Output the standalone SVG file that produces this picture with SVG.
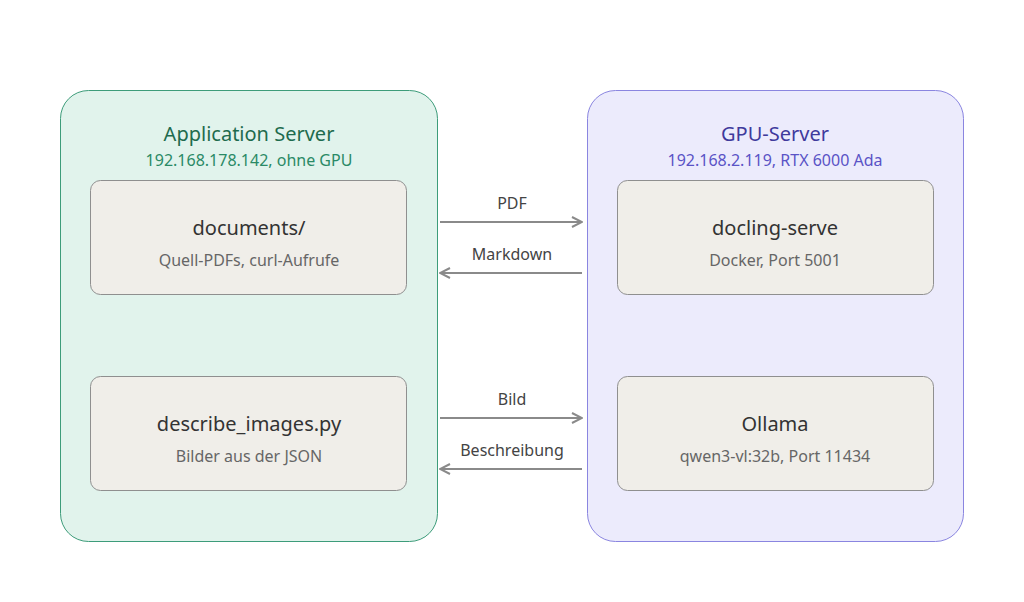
<svg xmlns="http://www.w3.org/2000/svg" width="1024" height="602" viewBox="0 0 1024 602">
<style>
text{font-family:"Noto Sans","Open Sans",sans-serif;text-anchor:middle}
.t{font-size:20px}.s{font-size:16px}
.n{fill:#f0eee9;stroke:#8f8f8f;stroke-width:1}
.nt{font-size:20px;fill:#333}.ns{font-size:16px;fill:#666}
.l{font-size:16px;fill:#444}
.c{stroke:#8a8a8a;stroke-width:2;fill:none;marker-end:url(#a)}
</style>
<defs><marker id="a" viewBox="0 0 12 12" refX="11" refY="6" markerWidth="12" markerHeight="12" markerUnits="userSpaceOnUse" orient="auto"><path d="M1 1L11 6L1 11" fill="none" stroke="#8a8a8a" stroke-width="2"/></marker></defs>
<rect width="1024" height="602" fill="#fff"/>
<g id="app">
<rect x="60.5" y="90.5" width="377" height="451" rx="28" fill="#e1f3ec" stroke="#3d9c7a"/>
<text x="249" y="141" class="t" fill="#1e6b4e">Application Server</text>
<text x="249" y="166" class="s" fill="#2a8a66">192.168.178.142, ohne GPU</text>
</g>
<g id="gpu">
<rect x="587.5" y="90.5" width="376" height="451" rx="28" fill="#ecebfc" stroke="#8a85e0"/>
<text x="775" y="141" class="t" fill="#3f3a9c">GPU-Server</text>
<text x="775" y="166" class="s" fill="#5a53c6">192.168.2.119, RTX 6000 Ada</text>
</g>
<g id="documents"><rect class="n" x="90.5" y="180.5" width="316" height="114" rx="10"/>
<text x="249" y="235" class="nt">documents/</text><text x="249" y="266" class="ns">Quell-PDFs, curl-Aufrufe</text></g>
<g id="describe"><rect class="n" x="90.5" y="376.5" width="316" height="114" rx="10"/>
<text x="249" y="431" class="nt">describe_images.py</text><text x="249" y="462" class="ns">Bilder aus der JSON</text></g>
<g id="docling"><rect class="n" x="617.5" y="180.5" width="316" height="114" rx="10"/>
<text x="775" y="235" class="nt">docling-serve</text><text x="775" y="266" class="ns">Docker, Port 5001</text></g>
<g id="ollama"><rect class="n" x="617.5" y="376.5" width="316" height="114" rx="10"/>
<text x="775" y="431" class="nt">Ollama</text><text x="775" y="462" class="ns">qwen3-vl:32b, Port 11434</text></g>
<g id="connectors">
<path class="c" d="M440 222H582"/><path class="c" d="M582 273H440"/>
<path class="c" d="M440 418H582"/><path class="c" d="M582 469H440"/>
<text x="512" y="209" class="l">PDF</text><text x="512" y="260" class="l">Markdown</text>
<text x="512" y="405" class="l">Bild</text><text x="512" y="456" class="l">Beschreibung</text>
</g>
</svg>
